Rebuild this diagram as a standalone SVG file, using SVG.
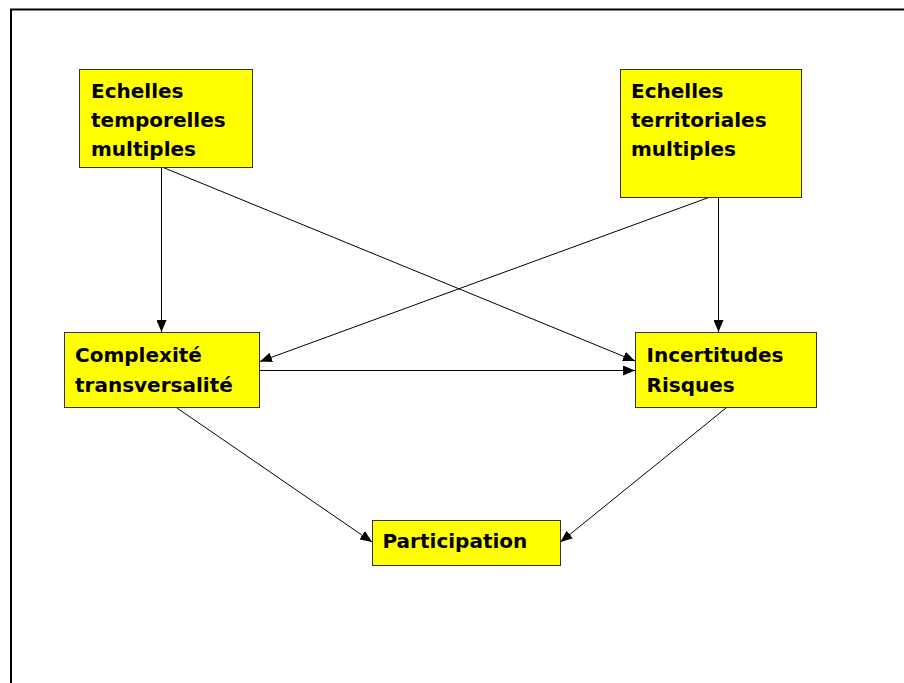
<svg xmlns="http://www.w3.org/2000/svg" width="904" height="683" viewBox="0 0 904 683">
<style>
.box{fill:#ffff00;stroke:#333;stroke-width:1}
.t{font-family:"DejaVu Sans",sans-serif;font-weight:bold;font-size:20px;fill:#000}
.c{stroke:#000;stroke-width:1;fill:none;marker-end:url(#ah)}
</style>
<defs>
<marker id="ah" markerWidth="12" markerHeight="10" refX="12" refY="5" orient="auto" markerUnits="userSpaceOnUse">
<path d="M0,0 L12,5 L0,10 Z" fill="#000"/>
</marker>
</defs>
<rect x="11" y="9.5" width="900" height="680" fill="#fff" stroke="#000" stroke-width="2"/>
<g id="connectors">
<line class="c" x1="161.5" y1="167" x2="161.5" y2="332"/>
<line class="c" x1="162" y1="167" x2="635" y2="361"/>
<line class="c" x1="710" y1="197" x2="260" y2="361.5"/>
<line class="c" x1="718.5" y1="197" x2="718.5" y2="332"/>
<line class="c" x1="260" y1="370.5" x2="635" y2="370.5"/>
<line class="c" x1="177" y1="408" x2="372" y2="542"/>
<line class="c" x1="726" y1="408" x2="560.5" y2="542"/>
</g>
<g id="n1">
<rect class="box" x="79.5" y="69.5" width="173" height="98"/>
<text class="t" x="91" y="97.5">Echelles</text>
<text class="t" x="91" y="127">temporelles</text>
<text class="t" x="91" y="156">multiples</text>
</g>
<g id="n2">
<rect class="box" x="620.5" y="69.5" width="181" height="128"/>
<text class="t" x="631" y="97.5">Echelles</text>
<text class="t" x="631" y="127">territoriales</text>
<text class="t" x="631" y="156">multiples</text>
</g>
<g id="n3">
<rect class="box" x="64.5" y="332.5" width="195" height="75"/>
<text class="t" x="75" y="361.5">Complexité</text>
<text class="t" x="75" y="391.5">transversalité</text>
</g>
<g id="n4">
<rect class="box" x="635.5" y="332.5" width="181" height="75"/>
<text class="t" x="646.5" y="361.5">Incertitudes</text>
<text class="t" x="646.5" y="391.5">Risques</text>
</g>
<g id="n5">
<rect class="box" x="372.5" y="520.5" width="188" height="45"/>
<text class="t" x="382.5" y="548">Participation</text>
</g>
</svg>
